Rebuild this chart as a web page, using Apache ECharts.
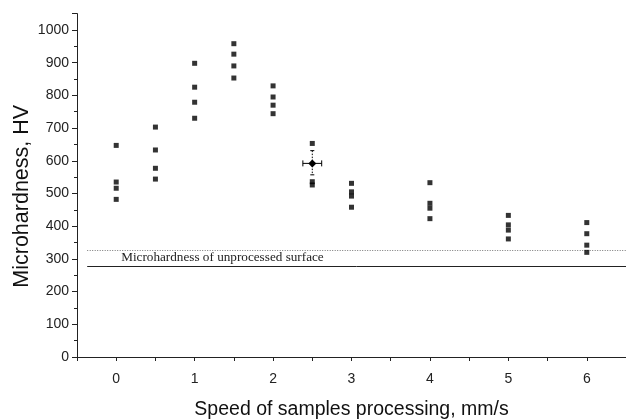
<!DOCTYPE html>
<html>
<head>
<meta charset="utf-8">
<script src="https://cdn.jsdelivr.net/npm/echarts@6/dist/echarts.min.js"></script>
<style>
  html, body { margin: 0; padding: 0; background: #fff; }
  #chart { width: 626px; height: 419px; }
</style>
</head>
<body>
<div id="chart"></div>
<script>
// processing speed, mm/s, and the measured hardness at each speed
const speeds = [0, 0.5, 1, 1.5, 2, 2.5, 3, 4, 5, 6];
const hardness = [
  [647, 535, 516, 482],
  [703, 633, 577, 544],
  [898, 825, 779, 730],
  [958, 926, 890, 853],
  [829, 795, 770, 744],
  [653, 536, 526],
  [531, 505, 492, 458],
  [533, 470, 455, 423],
  [433, 404, 388, 361],
  [411, 377, 342, 320]
];

// mean value with error bars
const meanSpeed = [2.5];
const meanHV = [592];
const speedErr = [0.12];
const hvLow = [557];
const hvHigh = [631];

// unprocessed surface reference
const unprocessedHV = 278;
const unprocessedUpper = 327;
const refStart = -0.37;
const refEnd = 6.5;
const refLabel = 'Microhardness of unprocessed surface';

const points = [];
speeds.forEach((s, i) => hardness[i].forEach(v => points.push([s, v])));

const errData = meanSpeed.map((s, i) => [s, meanHV[i], speedErr[i], hvLow[i], hvHigh[i]]);

const chart = echarts.init(document.getElementById('chart'));

const axisText = { color: '#222', fontFamily: 'Liberation Sans, Arial', fontSize: 14 };

const option = {
  animation: false,
  backgroundColor: '#fff',
  grid: { left: 77, right: 0, top: 13.6, bottom: 62, outerBoundsMode: 'none', containLabel: false },
  xAxis: {
    type: 'value',
    min: -0.5,
    max: 6.5,
    interval: 0.5,
    name: 'Speed of samples processing, mm/s',
    nameLocation: 'middle',
    nameGap: 43,
    nameTextStyle: { color: '#111', fontFamily: 'Liberation Sans, Arial', fontSize: 19.5 },
    axisLine: { onZero: false, lineStyle: { color: '#222', width: 1 } },
    axisTick: { show: true, inside: false, length: 4, lineStyle: { color: '#222' } },
    axisLabel: {
      ...axisText,
      margin: 15,
      showMinLabel: true,
      showMaxLabel: true,
      formatter: v => (Number.isInteger(v) && v >= 0 && v <= 6) ? String(v) : ''
    },
    splitLine: { show: false }
  },
  yAxis: {
    type: 'value',
    min: 0,
    max: 1050,
    interval: 100,
    name: 'Microhardness, HV',
    nameLocation: 'middle',
    nameGap: 44,
    nameMoveOverlap: false,
    nameTextStyle: {
      color: '#111',
      fontFamily: 'Liberation Sans, Arial',
      fontSize: 21.5,
      padding: [0, 22, 0, 0]
    },
    axisLine: { show: true, onZero: false, lineStyle: { color: '#222', width: 1 } },
    axisTick: { show: true, inside: false, length: 5, lineStyle: { color: '#222' } },
    minorTick: { show: true, splitNumber: 2, length: 3, lineStyle: { color: '#222' } },
    axisLabel: {
      ...axisText,
      margin: 8,
      formatter: v => (v % 100 === 0) ? String(v) : ''
    },
    splitLine: { show: false }
  },
  series: [
    {
      type: 'scatter',
      data: points,
      symbol: 'rect',
      symbolSize: 5,
      itemStyle: { color: '#000' },
      z: 5
    },
    {
      type: 'custom',
      data: errData,
      z: 6,
      renderItem: function (params, api) {
        const x = api.value(0), y = api.value(1), xe = api.value(2);
        const lo = api.value(3), hi = api.value(4);
        const l = api.coord([x - xe, y]);
        const r = api.coord([x + xe, y]);
        const t = api.coord([x, hi]);
        const b = api.coord([x, lo]);
        const c = api.coord([x, y]);
        const solid = { stroke: '#000', lineWidth: 1 };
        const dotted = { stroke: '#000', lineWidth: 1, lineDash: [1.5, 1.5] };
        return {
          type: 'group',
          children: [
            { type: 'line', shape: { x1: l[0], y1: l[1], x2: r[0], y2: r[1] }, style: solid },
            { type: 'line', shape: { x1: l[0], y1: l[1] - 3, x2: l[0], y2: l[1] + 3 }, style: solid },
            { type: 'line', shape: { x1: r[0], y1: r[1] - 3, x2: r[0], y2: r[1] + 3 }, style: solid },
            { type: 'line', shape: { x1: t[0], y1: t[1], x2: b[0], y2: b[1] }, style: dotted },
            { type: 'line', shape: { x1: t[0] - 2, y1: t[1], x2: t[0] + 2, y2: t[1] }, style: solid },
            { type: 'line', shape: { x1: b[0] - 2, y1: b[1], x2: b[0] + 2, y2: b[1] }, style: solid },
            { type: 'path', shape: { pathData: 'M0,-4L4,0L0,4L-4,0Z' }, x: c[0], y: c[1], style: { fill: '#000' } }
          ]
        };
      }
    },
    {
      type: 'line',
      data: [],
      silent: true,
      markLine: {
        silent: true,
        symbol: 'none',
        animation: false,
        data: [
          [
            { coord: [refStart, unprocessedUpper], lineStyle: { color: '#777', type: [1, 1.5], width: 1 }, label: { show: false } },
            { coord: [refEnd, unprocessedUpper] }
          ],
          [
            {
              coord: [refStart, unprocessedHV],
              lineStyle: { color: '#222', type: 'solid', width: 1 },
              label: {
                show: true,
                position: 'insideStartTop',
                formatter: refLabel,
                distance: [34, 2],
                color: '#222',
                fontFamily: 'Liberation Serif, Times New Roman',
                fontSize: 13.2
              }
            },
            { coord: [refEnd, unprocessedHV] }
          ]
        ]
      }
    }
  ]
};

chart.setOption(option);
</script>
</body>
</html>
